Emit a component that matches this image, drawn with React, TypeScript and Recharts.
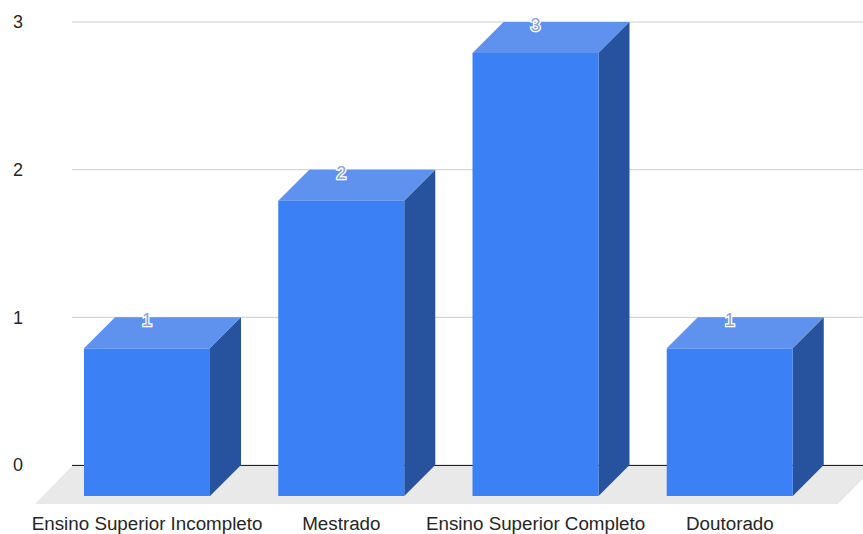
import { BarChart, Bar, CartesianGrid, LabelList, XAxis, YAxis, usePlotArea } from 'recharts';

const categories = ['Ensino Superior Incompleto', 'Mestrado', 'Ensino Superior Completo', 'Doutorado'];
const counts = [1, 2, 3, 1];
const yTicks = [0, 1, 2, 3];

const data = categories.map((name, i) => ({ name, count: counts[i] }));

const COLORS = {
  front: '#3c80f5',
  top: '#5f92ef',
  side: '#26529e',
  floor: '#e9e9e9',
  grid: '#cccccc',
  axis: '#222222',
  text: '#262626',
};

const FONT = '"Liberation Sans", Arial, sans-serif';
const DEPTH = 31; // how far the front face sits from the back plane
const FLOOR_DEPTH = 38;

// grey slab the bars stand on, plus the dark baseline behind them
function Floor() {
  const plot = usePlotArea();
  if (!plot) return null;
  const base = plot.y + plot.height;
  const right = plot.x + plot.width + 13;
  const points = [
    [plot.x, base + 1],
    [right, base + 1],
    [right - FLOOR_DEPTH, base + FLOOR_DEPTH + 1],
    [plot.x - FLOOR_DEPTH + 1, base + FLOOR_DEPTH + 1],
  ].map(p => p.join(',')).join(' ');
  return (
    <g>
      <polygon points={points} fill={COLORS.floor} />
      <line x1={plot.x} y1={base + 0.5} x2={plot.x + plot.width} y2={base + 0.5} stroke={COLORS.axis} />
    </g>
  );
}

// box drawn from the rectangle the bar scale hands over (that rectangle is the back face)
function Box3D({ x, y, width, height }: any) {
  const fx = x - DEPTH;
  const fy = y + DEPTH;
  return (
    <g>
      <polygon
        points={`${x},${y} ${x + width},${y} ${fx + width},${fy} ${fx},${fy}`}
        fill={COLORS.top}
      />
      <polygon
        points={`${x + width},${y} ${x + width},${y + height} ${fx + width},${fy + height} ${fx + width},${fy}`}
        fill={COLORS.side}
      />
      <rect x={fx} y={fy} width={width} height={height} fill={COLORS.front} />
    </g>
  );
}

function ValueLabel({ x, y, width, value }: any) {
  return (
    <text
      x={x + width / 2 - DEPTH}
      y={y + 9}
      textAnchor="middle"
      fontFamily={FONT}
      fontSize={18}
      fill="#8fa3d6"
      stroke="#ffffff"
      strokeWidth={2.5}
      paintOrder="stroke"
    >
      {value}
    </text>
  );
}

export default function App() {
  return (
    <div style={{ position: 'absolute', left: 0, top: 0 }}>
      <BarChart
        width={863}
        height={534}
        data={data}
        margin={{ top: 22, right: 0, bottom: 0, left: 0 }}
      >
        <CartesianGrid vertical={false} stroke={COLORS.grid} />
        <Floor />
        <XAxis
          dataKey="name"
          height={69}
          interval={0}
          padding={{ left: 9, right: 5 }}
          axisLine={false}
          tickLine={false}
          tickMargin={46}
          dx={-31}
          tick={{ fill: COLORS.text, fontSize: 18.8, fontFamily: FONT }}
        />
        <YAxis
          width={72}
          domain={[0, 3]}
          ticks={yTicks}
          axisLine={false}
          tickLine={false}
          tickMargin={43}
          tick={{ fill: COLORS.text, fontSize: 18, fontFamily: FONT }}
        />
        <Bar dataKey="count" barSize={126} shape={<Box3D />} isAnimationActive={false}>
          <LabelList dataKey="count" content={<ValueLabel />} />
        </Bar>
      </BarChart>
    </div>
  );
}
